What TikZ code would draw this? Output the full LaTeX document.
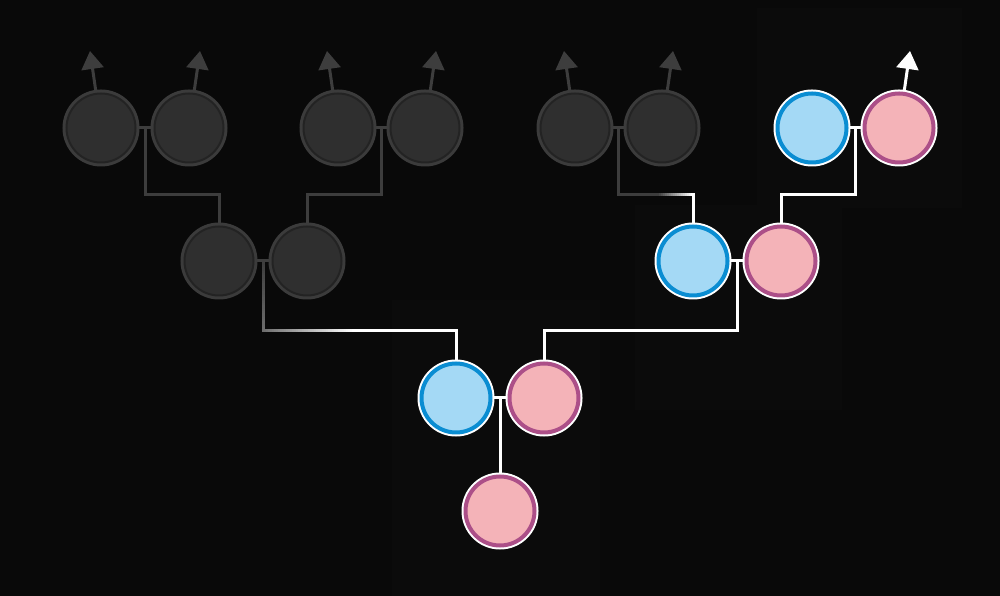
\documentclass[tikz,border=0pt]{standalone}
\usetikzlibrary{arrows.meta,calc}
\definecolor{bgc}{HTML}{090909}
\definecolor{boxc}{HTML}{0B0B0B}
\definecolor{gfill}{HTML}{2F2F2F}
\definecolor{gdark}{HTML}{232323}
\definecolor{gring}{HTML}{3B3B3B}
\definecolor{glinec}{HTML}{3D3D3D}
\definecolor{bfill}{HTML}{A4D9F5}
\definecolor{bring}{HTML}{0A8DD2}
\definecolor{pfill}{HTML}{F4B3B8}
\definecolor{pring}{HTML}{AC4F88}
\pgfdeclarelayer{back}
\pgfdeclarelayer{lines}
\pgfsetlayers{back,lines,main}
\begin{document}
\begin{tikzpicture}[x=1pt,y=1pt,
  person/.style={circle,minimum size=69pt,inner sep=0pt,outer sep=0pt},
  grayp/.style={person,fill=gfill,draw=gdark,line width=2pt,preaction={draw=gring,line width=8pt}},
  malep/.style={person,fill=bfill,draw=bring,line width=4pt,preaction={draw=white,line width=8pt}},
  femalep/.style={person,fill=pfill,draw=pring,line width=4pt,preaction={draw=white,line width=8pt}},
  gline/.style={draw=glinec,line width=3pt},
  wline/.style={draw=white,line width=3pt},
  tipline/.style={-{Triangle[length=18pt,width=22pt]}}]
\useasboundingbox (0,0) rectangle (1000,596);
\begin{pgfonlayer}{back}
  \fill[bgc] (0,0) rectangle (1000,596);
  \fill[boxc] (392,0) rectangle (600,296);
  \fill[boxc] (635,186) rectangle (842,391);
  \fill[boxc] (757,388) rectangle (962,588);
\end{pgfonlayer}
% generation 3
\node[grayp] (g3a) at (101,468) {};
\node[grayp] (g3b) at (189,468) {};
\node[grayp] (g3c) at (338,468) {};
\node[grayp] (g3d) at (425,468) {};
\node[grayp] (g3e) at (575,468) {};
\node[grayp] (g3f) at (662,468) {};
\node[malep] (g3g) at (812,468) {};
\node[femalep] (g3h) at (899,468) {};
% generation 2
\node[grayp] (g2a) at (219,335) {};
\node[grayp] (g2b) at (307,335) {};
\node[malep] (g2c) at (693,335) {};
\node[femalep] (g2d) at (781,335) {};
% generation 1
\node[malep] (g1a) at (456,198) {};
\node[femalep] (g1b) at (544,198) {};
% child
\node[femalep] (c) at (500,85) {};
% coordinates
\coordinate (m3a) at ($(g3a.east)!0.5!(g3b.west)$);
\coordinate (m3b) at ($(g3c.east)!0.5!(g3d.west)$);
\coordinate (m3c) at ($(g3e.east)!0.5!(g3f.west)$);
\coordinate (m3d) at ($(g3g.east)!0.5!(g3h.west)$);
\coordinate (m2a) at ($(g2a.east)!0.5!(g2b.west)$);
\coordinate (m2b) at ($(g2c.east)!0.5!(g2d.west)$);
\coordinate (m1) at ($(g1a.east)!0.5!(g1b.west)$);
\coordinate (gw1) at (353,265);
\coordinate (gs2) at (657,401);
\coordinate (t3a) at ($(g3a)+(-11,77)$);
\coordinate (t3b) at ($(g3b)+(11,77)$);
\coordinate (t3c) at ($(g3c)+(-11,77)$);
\coordinate (t3d) at ($(g3d)+(11,77)$);
\coordinate (t3e) at ($(g3e)+(-11,77)$);
\coordinate (t3f) at ($(g3f)+(11,77)$);
\coordinate (t3h) at ($(g3h)+(11,77)$);
\begin{pgfonlayer}{lines}
  % gray couples and descents
  \draw[gline] (g3a.east) -- (g3b.west);
  \draw[gline] (m3a) -- ++(0,-67) -| (g2a.north);
  \draw[gline] (g3c.east) -- (g3d.west);
  \draw[gline] (m3b) -- ++(0,-67) -| (g2b.north);
  \draw[gline] (g2a.east) -- (g2b.west);
  % fading descent from grey couple (g2a,g2b) to g1a
  \foreach \i in {0,...,34}{
    \pgfmathtruncatemacro\p{25*\i/34}
    \draw[line width=3pt,draw=white!\p!glinec] ($(m2a)+(0,-2*\i)$) -- ++(0,-2.4);
  }
  \foreach \i in {0,...,45}{
    \pgfmathtruncatemacro\p{25+75*\i/45}
    \draw[line width=3pt,draw=white!\p!glinec] ($(m2a)+(-1.5+2*\i,-70)$) -- ++(2.4,0);
  }
  \draw[wline] (g1a.north) |- (gw1);
  % fading descent from grey couple (g3e,g3f) to g2c
  \draw[gline] (g3e.east) -- (g3f.west);
  \draw[gline] (m3c) -- ++(0,-67) -- (gs2);
  \foreach \i in {0,...,18}{
    \pgfmathtruncatemacro\p{100*\i/17}
    \draw[line width=3pt,draw=white!\p!glinec] ($(gs2)+(2*\i,0)$) -- ++(2.4,0);
  }
  \draw[wline] (g2c.north) -- (g2c.north |- gs2);
  % white couples and descents
  \draw[wline] (g3g.east) -- (g3h.west);
  \draw[wline] (m3d) -- ++(0,-67) -| (g2d.north);
  \draw[wline] (g2c.east) -- (g2d.west);
  \draw[wline] (m2b) -- ++(0,-70) -| (g1b.north);
  \draw[wline] (g1a.east) -- (g1b.west);
  \draw[wline] (m1) -- (c.north);
  % arrows
  \draw[gline,tipline] (g3a.98) -- (t3a);
  \draw[gline,tipline] (g3b.82) -- (t3b);
  \draw[gline,tipline] (g3c.98) -- (t3c);
  \draw[gline,tipline] (g3d.82) -- (t3d);
  \draw[gline,tipline] (g3e.98) -- (t3e);
  \draw[gline,tipline] (g3f.82) -- (t3f);
  \draw[wline,tipline] (g3h.82) -- (t3h);
\end{pgfonlayer}
\end{tikzpicture}
\end{document}
